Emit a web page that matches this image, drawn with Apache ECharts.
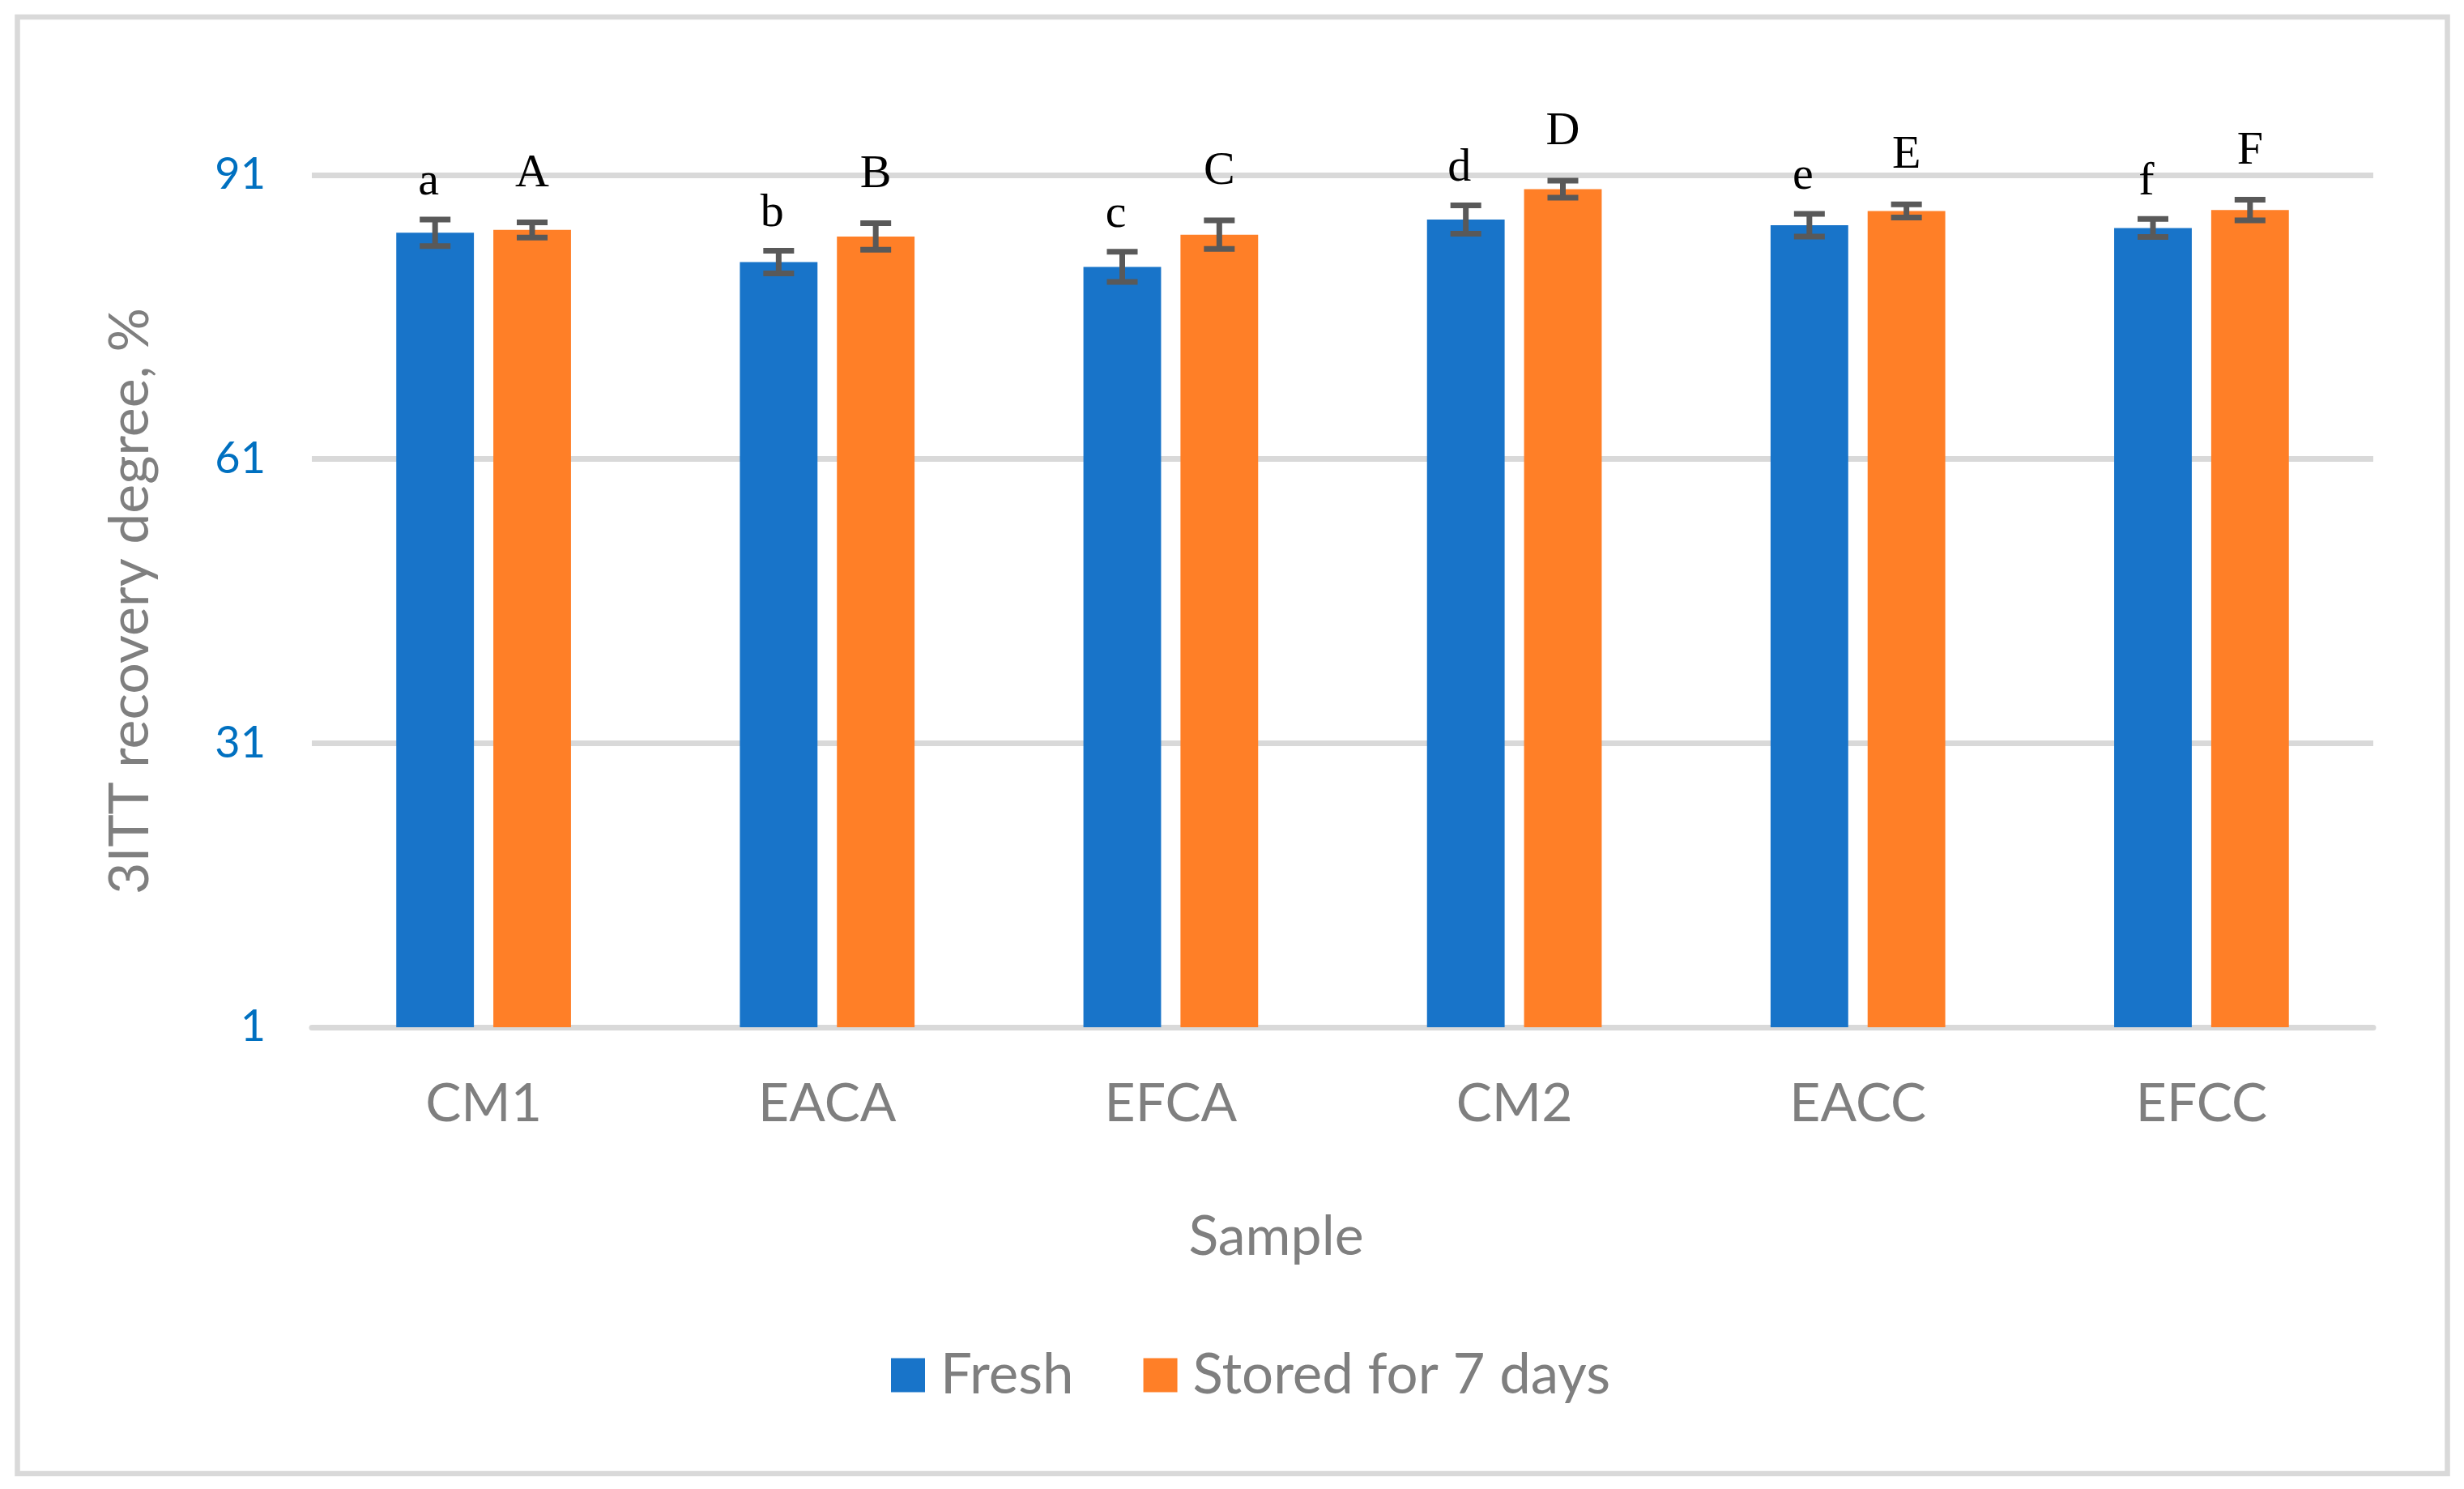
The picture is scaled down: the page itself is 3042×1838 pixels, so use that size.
<!DOCTYPE html>
<html>
<head>
<meta charset="utf-8">
<script src="https://cdn.jsdelivr.net/npm/echarts@6/dist/echarts.min.js"></script>
<style>
html,body{margin:0;padding:0;background:#fff;}
#chart{width:3042px;height:1838px;}
</style>
</head>
<body>
<div id="chart"></div>
<script>
const categories = ['CM1', 'EACA', 'EFCA', 'CM2', 'EACC', 'EFCC'];
const seriesNames = ['Fresh', 'Stored for 7 days'];
const freshValues = [84.9, 81.8, 81.3, 86.3, 85.7, 85.4];
const freshErrors = [1.4, 1.2, 1.6, 1.5, 1.2, 0.95];
const freshLetters = ['a', 'b', 'c', 'd', 'e', 'f'];
const storedValues = [85.2, 84.5, 84.7, 89.5, 87.2, 87.3];
const storedErrors = [0.8, 1.4, 1.5, 0.9, 0.7, 1.1];
const storedLetters = ['A', 'B', 'C', 'D', 'E', 'F'];
const yTicks = [1, 31, 61, 91];

const BAR_W = 0.226, BAR_GAP = 0.25;
const SANS = 'Lato';

function errorSeries(values, errors, letters, sign, letterGap, letterShift) {
  return {
    type: 'custom',
    silent: true,
    z: 5,
    data: values.map((v, i) => [i, v, errors[i]]),
    renderItem: function (params, api) {
      const i = api.value(0), v = api.value(1), e = api.value(2);
      const band = api.size([1, 0])[0];
      const off = sign * band * (BAR_W / 2 + BAR_W * BAR_GAP / 2);
      const top = api.coord([i, v + e]);
      const bot = api.coord([i, v - e]);
      const x = top[0] + off;
      const cw = 19;
      const st = { stroke: '#595959', lineWidth: 7 };
      return {
        type: 'group',
        children: [
          { type: 'line', shape: { x1: x, y1: top[1], x2: x, y2: bot[1] }, style: st },
          { type: 'line', shape: { x1: x - cw, y1: top[1], x2: x + cw, y2: top[1] }, style: st },
          { type: 'line', shape: { x1: x - cw, y1: bot[1], x2: x + cw, y2: bot[1] }, style: st },
          { type: 'text', style: { text: letters[params.dataIndex], x: x + letterShift, y: top[1] - letterGap + 13,
              align: 'center', verticalAlign: 'bottom', fill: '#000',
              font: '58px "Liberation Serif", "Times New Roman", serif' } }
        ]
      };
    }
  };
}

const chart = echarts.init(document.getElementById('chart'));
chart.setOption({
  animation: false,
  backgroundColor: '#fff',
  graphic: [{
    type: 'rect', shape: { x: 21.5, y: 21, width: 3000, height: 1798 },
    style: { fill: 'none', stroke: '#D9D9D9', lineWidth: 6.5 }, silent: true
  }],
  grid: { left: 385, right: 112, top: 216, bottom: 570 },
  legend: {
    data: seriesNames,
    left: 1095, top: 1658,
    icon: 'rect', itemWidth: 42, itemHeight: 42, itemGap: 86,
    textStyle: { color: '#7F7F7F', fontSize: 69, fontFamily: SANS, padding: [0, 0, 0, 14] }
  },
  xAxis: {
    type: 'category', data: categories,
    axisLine: { lineStyle: { color: '#D9D9D9', width: 7 } },
    axisTick: { show: false },
    axisLabel: { color: '#7F7F7F', fontSize: 66, fontFamily: SANS, margin: 62 },
    name: 'Sample', nameLocation: 'middle', nameGap: 225,
    nameTextStyle: { color: '#7F7F7F', fontSize: 68, fontFamily: SANS, padding: [0, 164, 0, 0] }
  },
  yAxis: {
    type: 'value', min: yTicks[0], max: yTicks[yTicks.length - 1], interval: yTicks[1] - yTicks[0],
    axisLine: { show: false }, axisTick: { show: false },
    splitLine: { lineStyle: { color: '#D9D9D9', width: 7 } },
    axisLabel: { color: '#0070C0', fontSize: 54, fontFamily: SANS, margin: 57 },
    name: '3ITT recovery degree, %', nameLocation: 'middle', nameGap: 190,
    nameTextStyle: { color: '#7F7F7F', fontSize: 68, fontFamily: SANS }
  },
  series: [
    { name: seriesNames[0], type: 'bar', data: freshValues, barWidth: (BAR_W * 100) + '%', barGap: (BAR_GAP * 100) + '%',
      itemStyle: { color: '#1874C9' } },
    { name: seriesNames[1], type: 'bar', data: storedValues, barWidth: (BAR_W * 100) + '%', barGap: (BAR_GAP * 100) + '%',
      itemStyle: { color: '#FF7F27' } },
    errorSeries(freshValues, freshErrors, freshLetters, -1, 30, -8),
    errorSeries(storedValues, storedErrors, storedLetters, 1, 44, 0)
  ]
});
</script>
</body>
</html>
